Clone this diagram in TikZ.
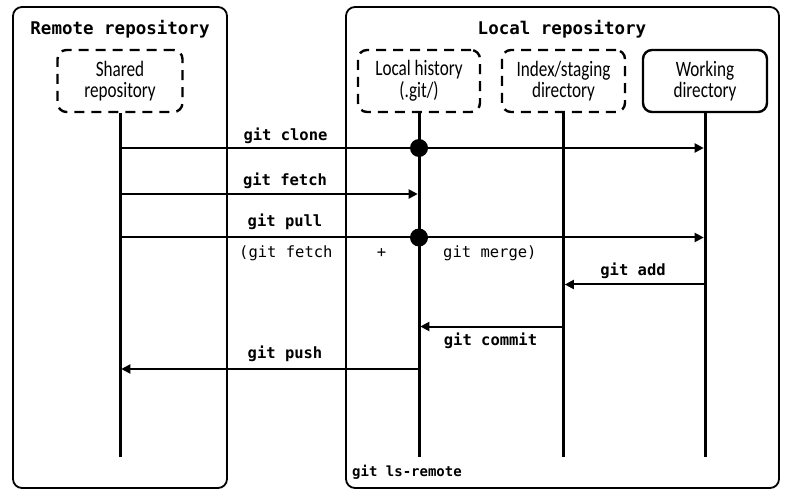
\documentclass[tikz,border=0pt]{standalone}
\usepackage{fontspec}
\setmonofont{DejaVu Sans Mono}
\newfontfamily\boxfont{Carlito}[FakeStretch=0.78]
\usetikzlibrary{arrows.meta}
\begin{document}
\begin{tikzpicture}[x=1pt,y=-1pt,
 frame/.style={draw, line width=1.8pt, rounded corners=9pt},
 dbox/.style={draw, line width=2.4pt, dash pattern=on 10pt off 7pt, rounded corners=9pt,
   minimum width=123pt, minimum height=62pt, align=center,
   font=\boxfont\fontsize{22}{21.5}\selectfont, inner sep=0pt},
 sbox/.style={dbox, solid},
 title/.style={font=\ttfamily\bfseries\fontsize{17.5}{18}\selectfont, anchor=base, inner sep=0pt},
 cmd/.style={font=\ttfamily\bfseries\fontsize{15.5}{16}\selectfont, anchor=base, inner sep=0pt},
 note/.style={font=\ttfamily\fontsize{15.5}{16}\selectfont, anchor=base, inner sep=0pt},
 life/.style={line width=3pt},
 msg/.style={line width=2pt, -{Triangle[length=9pt,width=9pt]}, shorten >=1.3pt},
 dot/.style={circle, fill, inner sep=0pt, minimum size=18pt}
]
\useasboundingbox (0,0) rectangle (794,502);
% frames
\node[frame, minimum width=214pt, minimum height=481pt] (remote) at (120,247.5) {};
\node[frame, minimum width=433pt, minimum height=481pt] (local) at (562.5,247.5) {};
\node[title] (remotetitle) at (120,35) {Remote repository};
\node[title] (localtitle) at (562,35) {Local repository};
% boxes
\node[dbox, minimum width=125pt] (shared) at (120,81) {Shared\\repository};
\node[dbox, minimum width=122pt] (hist) at (419,81) {Local history\\(.git/)};
\node[dbox] (index) at (563.5,81) {Index/staging\\directory};
\node[sbox, minimum width=124pt] (work) at (705,81) {Working\\directory};
% lifeline ends
\coordinate (shared-end) at (shared.south |- 0,457);
\coordinate (hist-end) at (hist.south |- 0,457);
\coordinate (index-end) at (index.south |- 0,457);
\coordinate (work-end) at (work.south |- 0,457);
\draw[life] (shared) -- (shared-end);
\draw[life] (hist) -- (hist-end);
\draw[life] (index) -- (index-end);
\draw[life] (work) -- (work-end);
% message points
\coordinate (sh-clone) at (shared.south |- 0,148);
\coordinate (wk-clone) at (work.south |- 0,148);
\coordinate (sh-fetch) at (shared.south |- 0,194);
\coordinate (hi-fetch) at (hist.south |- 0,194);
\coordinate (sh-pull) at (shared.south |- 0,237.5);
\coordinate (wk-pull) at (work.south |- 0,237.5);
\coordinate (wk-add) at (work.south |- 0,284.5);
\coordinate (ix-add) at (index.south |- 0,284.5);
\coordinate (ix-commit) at (index.south |- 0,326.5);
\coordinate (hi-commit) at (hist.south |- 0,326.5);
\coordinate (hi-push) at (hist.south |- 0,369);
\coordinate (sh-push) at (shared.south |- 0,369);
\draw[msg] (sh-clone) -- (wk-clone);
\draw[msg] (sh-fetch) -- (hi-fetch);
\draw[msg] (sh-pull) -- (wk-pull);
\draw[msg] (wk-add) -- (ix-add);
\draw[msg] (ix-commit) -- (hi-commit);
\draw[msg] (hi-push) -- (sh-push);
\node[dot] (clonedot) at (hist.south |- 0,148) {};
\node[dot] (pulldot) at (hist.south |- 0,237.5) {};
% labels
\node[cmd] (lclone) at (285.5,141) {git clone};
\node[cmd] (lfetch) at (285,186) {git fetch};
\node[cmd] (lpull) at (285,226.5) {git pull};
\node[note, anchor=base west] (lpf) at (239,258) {(git fetch};
\node[note] (lplus) at (381.5,258) {+};
\node[note, anchor=base west] (lpm) at (443,258) {git merge)};
\node[cmd] (ladd) at (633,276) {git add};
\node[cmd] (lcommit) at (490.5,345.5) {git commit};
\node[cmd] (lpush) at (285,358) {git push};
\node[cmd, anchor=base west, font=\ttfamily\bfseries\fontsize{14}{14}\selectfont] (lls) at (352,476) {git ls-remote};
\end{tikzpicture}
\end{document}
